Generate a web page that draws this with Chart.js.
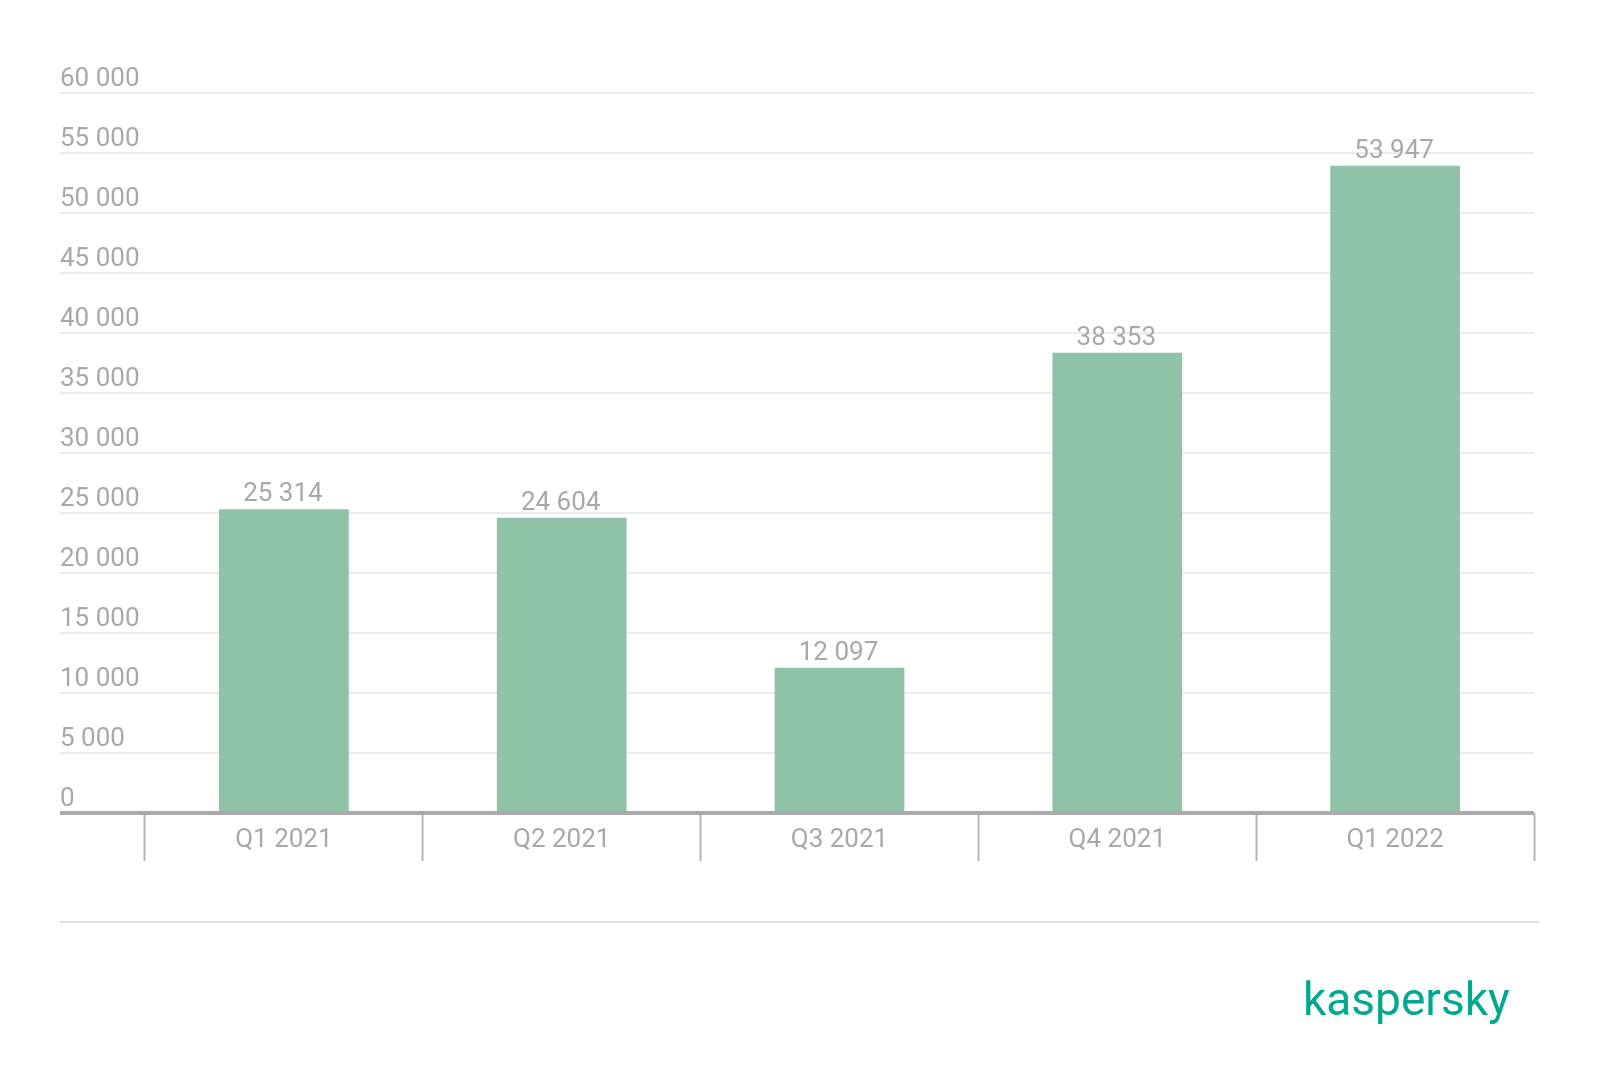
<!DOCTYPE html>
<html>
<head>
<meta charset="utf-8">
<script src="https://cdn.jsdelivr.net/npm/chart.js@4"></script>
<style>
  html, body { margin: 0; padding: 0; background: #ffffff; }
  #wrap { position: relative; width: 1600px; height: 1086px; }
</style>
</head>
<body>
<div id="wrap"><canvas id="c" width="1600" height="1086"></canvas></div>
<script>
const categories = ['Q1 2021', 'Q2 2021', 'Q3 2021', 'Q4 2021', 'Q1 2022'];
const values = [25314, 24604, 12097, 38353, 53947];
const yTickMin = 0;
const yTickMax = 60000;
const yTickStep = 5000;
const brandText = 'kaspersky';

const TEXT_COLOR = '#a8a8a8';
const FONT_FAMILY = 'Roboto, "Liberation Sans", sans-serif';

function fmt(v) {
  return String(v).replace(/\B(?=(\d{3})+(?!\d))/g, ' ');
}

const valueLabels = {
  id: 'valueLabels',
  afterDatasetsDraw(chart) {
    const ctx = chart.ctx;
    const meta = chart.getDatasetMeta(0);
    ctx.save();
    ctx.font = '26px ' + FONT_FAMILY;
    ctx.fillStyle = TEXT_COLOR;
    ctx.textAlign = 'center';
    ctx.textBaseline = 'alphabetic';
    meta.data.forEach((bar, i) => {
      ctx.fillText(fmt(chart.data.datasets[0].data[i]), bar.x - 1, bar.y - 8);
    });
    ctx.restore();
  }
};

const footer = {
  id: 'footer',
  afterDraw(chart) {
    const ctx = chart.ctx;
    ctx.save();
    ctx.strokeStyle = '#dedede';
    ctx.lineWidth = 2;
    ctx.beginPath();
    ctx.moveTo(60, 922);
    ctx.lineTo(1539, 922);
    ctx.stroke();
    ctx.font = '400 46px ' + FONT_FAMILY;
    ctx.fillStyle = '#00a88e';
    ctx.textAlign = 'left';
    ctx.textBaseline = 'alphabetic';
    ctx.fillText(brandText, 1303, 1015);
    ctx.restore();
  }
};

new Chart(document.getElementById('c'), {
  type: 'bar',
  data: {
    labels: categories,
    datasets: [{
      data: values,
      backgroundColor: '#8fc3a8',
      borderWidth: 0,
      barPercentage: 0.467,
      categoryPercentage: 1.0
    }]
  },
  options: {
    responsive: false,
    animation: false,
    layout: { padding: { left: 60, right: 66, top: 93, bottom: 173 } },
    plugins: { legend: { display: false }, tooltip: { enabled: false } },
    scales: {
      x: {
        offset: true,
        border: { display: false },
        grid: {
          offset: true,
          drawOnChartArea: false,
          drawTicks: true,
          tickLength: 48,
          tickColor: '#b4b4b4',
          tickWidth: 2
        },
        ticks: {
          color: TEXT_COLOR,
          font: { family: FONT_FAMILY, size: 26 },
          padding: -36,
          maxRotation: 0
        },
        afterFit(scale) { scale.height = 100; }
      },
      y: {
        min: yTickMin,
        max: yTickMax,
        border: { display: false },
        grid: {
          drawTicks: true,
          tickLength: 85,
          color: (c) => c.tick && c.tick.value === 0 ? '#aaaaaa' : '#ebebeb',
          tickColor: (c) => c.tick && c.tick.value === 0 ? '#aaaaaa' : '#ebebeb',
          lineWidth: (c) => c.tick && c.tick.value === 0 ? 4 : 2,
          tickWidth: (c) => c.tick && c.tick.value === 0 ? 4 : 2
        },
        ticks: {
          stepSize: yTickStep,
          color: TEXT_COLOR,
          font: { family: FONT_FAMILY, size: 26 },
          crossAlign: 'far',
          padding: 0,
          labelOffset: -14,
          callback: (v) => fmt(v)
        },
        afterFit(scale) { scale.width = 85; }
      }
    }
  },
  plugins: [valueLabels, footer]
});
</script>
</body>
</html>
